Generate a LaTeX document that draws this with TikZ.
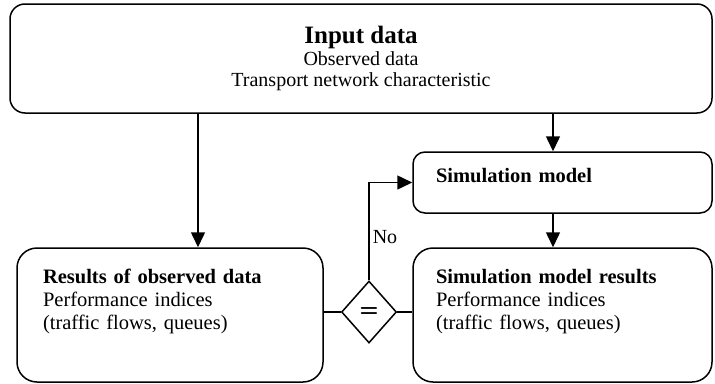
\documentclass[tikz,border=0pt]{standalone}
\usepackage{fontspec}
\setmainfont{Liberation Serif}
\usetikzlibrary{arrows.meta,shapes.geometric}

\begin{document}
\begin{tikzpicture}[x=1pt, y=-1pt, line width=1.5pt,
  box/.style={draw, rounded corners=#1, inner ysep=0pt, font=\fontsize{20.5}{23}\selectfont},
  arr/.style={-{Triangle[length=15pt,width=14pt]}}]

	\useasboundingbox (0,0) rectangle (715,383);

	\def\ax{198};
	\def\bx{553};

	\node[box=15pt, minimum width=702pt, minimum height=109pt, align=center, font=\fontsize{20}{21.5}\selectfont] (input) at (361,58.5)
		{{\fontsize{25}{25}\selectfont\bfseries Input data}\\Observed data\\Transport network characteristic};

	\node[box=12pt, text width=253pt, inner xsep=23pt, minimum height=61pt, text depth=15pt, align=left, font=\fontsize{20.5}{23}\selectfont\bfseries] (sim) at (562.5,182.5) {Simulation model};

	\node[box=20pt, text width=254pt, inner xsep=26pt, minimum height=134pt, text depth=78pt, align=left] (obs) at (170,315)
		{\textbf{Results of observed data}\\Performance indices\\(traffic flows, queues)};
	\node[box=20pt, text width=253pt, inner xsep=23pt, minimum height=134pt, text depth=78pt, align=left] (simres) at (562.5,315)
		{\textbf{Simulation model results}\\Performance indices\\(traffic flows, queues)};

	\node[draw, diamond, minimum width=55pt, minimum height=62pt, inner sep=0pt, font=\fontsize{22}{22}\sffamily\bfseries] (eq) at (369,312) {=};

	\coordinate (ca) at (\ax,0);
	\coordinate (cb) at (\bx,0);

	\draw[arr] (input.south -| ca) -- (obs.north -| ca);
	\draw[arr] (input.south -| cb) -- (sim.north -| cb);
	\draw[arr] (sim.south -| cb) -- (simres.north -| cb);
	\draw (obs.east |- eq.west) -- (eq.west);
	\draw (eq.east) -- (simres.west |- eq.east);
	\draw[arr] (eq.north) |- node[pos=0.22, right, inner sep=3pt, font=\fontsize{20}{20}\selectfont] (no) {No} (sim.west);

\end{tikzpicture}
\end{document}
